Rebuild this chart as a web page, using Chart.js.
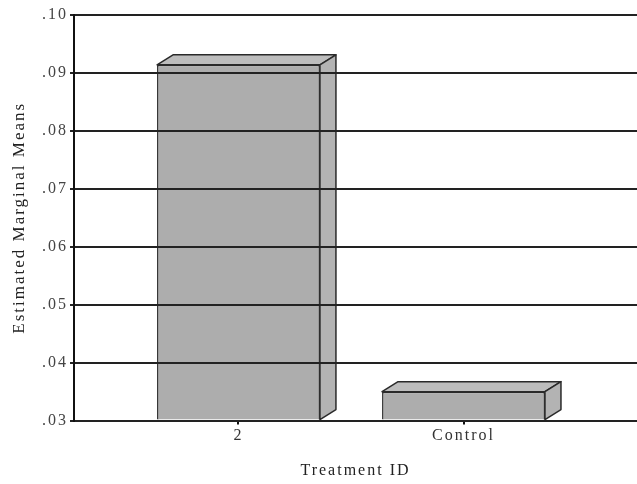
<!DOCTYPE html>
<html lang="en">
<head>
    <meta charset="UTF-8">
    <title>Estimated Marginal Means by Treatment ID</title>
    <script src="https://cdn.jsdelivr.net/npm/chart.js"></script>
    <style>
        body, html {
            margin: 0;
            padding: 0;
            width: 637px;
            height: 484px;
            overflow: hidden;
            background: #fff;
        }
        #wrap { width: 637px; height: 484px; }
    </style>
</head>
<body>
    <div id="wrap"><canvas id="emmChart"></canvas></div>

    <script>
        const categories = ["2", "Control"];
        const means = [0.0914, 0.0350];
        const yTicks = [0.03, 0.04, 0.05, 0.06, 0.07, 0.08, 0.09, 0.10];

        const yMin = yTicks[0];
        const yMax = yTicks[yTicks.length - 1];

        // fake 3D: top and side faces from each bar element
        const depth = { dx: 16, dy: -10 };
        const bar3d = {
            id: 'bar3d',
            afterDatasetsDraw(chart) {
                const ctx = chart.ctx;
                chart.getDatasetMeta(0).data.forEach(bar => {
                    const p = bar.getProps(['x', 'y', 'width', 'base'], true);
                    const l = p.x - p.width / 2, r = p.x + p.width / 2;
                    const t = p.y, b = p.base;
                    ctx.save();
                    ctx.strokeStyle = '#2a2a2a';
                    ctx.lineWidth = 1.5;
                    ctx.lineJoin = 'round';
                    // top
                    ctx.beginPath();
                    ctx.moveTo(l, t);
                    ctx.lineTo(l + depth.dx, t + depth.dy);
                    ctx.lineTo(r + depth.dx, t + depth.dy);
                    ctx.lineTo(r, t);
                    ctx.closePath();
                    ctx.fillStyle = '#bdbdbd';
                    ctx.fill();
                    ctx.stroke();
                    // side
                    ctx.beginPath();
                    ctx.moveTo(r, t);
                    ctx.lineTo(r + depth.dx, t + depth.dy);
                    ctx.lineTo(r + depth.dx, b + depth.dy);
                    ctx.lineTo(r, b);
                    ctx.closePath();
                    ctx.fillStyle = '#b3b3b3';
                    ctx.fill();
                    ctx.stroke();
                    ctx.restore();
                });
            }
        };

        const spacing = {
            id: 'spacing',
            beforeDraw(chart) { chart.ctx.letterSpacing = '2px'; }
        };

        Chart.defaults.font.family = "'Liberation Serif', 'Times New Roman', serif";
        Chart.defaults.font.size = 16;
        Chart.defaults.color = '#333';

        new Chart(document.getElementById('emmChart'), {
            type: 'bar',
            data: {
                datasets: [{
                    data: means.map((v, i) => ({ x: i, y: v })),
                    base: yMin,
                    backgroundColor: '#adadad',
                    borderColor: '#2a2a2a',
                    borderWidth: 1.5,
                    barPercentage: 0.724,
                    categoryPercentage: 1
                }]
            },
            options: {
                responsive: true,
                maintainAspectRatio: false,
                animation: false,
                layout: { padding: { top: 15, right: 0, bottom: 7, left: 0 } },
                plugins: { legend: { display: false }, tooltip: { enabled: false } },
                scales: {
                    x: {
                        type: 'linear',
                        offset: false,
                        min: -0.731,
                        max: 1.771,
                        afterBuildTicks: s => { s.ticks = categories.map((c, i) => ({ value: i })); },
                        ticks: { callback: v => categories[v], padding: 2, color: '#333' },
                        grid: { offset: false, drawOnChartArea: false, drawTicks: true, tickLength: 4, color: '#111', lineWidth: 2 },
                        border: { display: true, color: '#222', width: 2 },
                        title: { display: true, text: 'Treatment ID', color: '#222', padding: { top: 13, bottom: -3 } }
                    },
                    y: {
                        min: yMin,
                        max: yMax,
                        afterBuildTicks: s => { s.ticks = yTicks.map(v => ({ value: v })); },
                        afterFit: s => { s.width = 74; },
                        ticks: { callback: v => v.toFixed(2).replace(/^0/, ''), padding: 2, color: '#444' },
                        grid: { z: 1, color: '#222', lineWidth: 2, tickLength: 4 },
                        border: { z: 1, display: true, color: '#111', width: 2 },
                        title: { display: true, text: 'Estimated Marginal Means', color: '#222', font: { size: 17 }, padding: { top: 9, bottom: 0 } }
                    }
                }
            },
            plugins: [bar3d, spacing]
        });
    </script>
</body>
</html>
